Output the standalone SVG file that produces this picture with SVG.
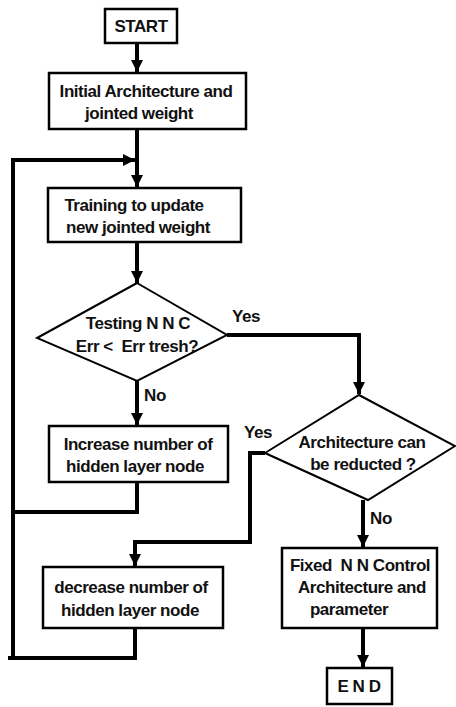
<svg xmlns="http://www.w3.org/2000/svg" width="456" height="707" viewBox="0 0 456 707">
<style>
.box{fill:#fff;stroke:#000;stroke-width:2.5}
.dia{fill:#fff;stroke:#000;stroke-width:2}
.t{font-family:"Liberation Sans",Arial,sans-serif;font-weight:bold;font-size:17px;letter-spacing:-0.45px;fill:#111;text-anchor:middle}
.c{fill:none;stroke:#000;stroke-width:4;stroke-linejoin:miter}
</style>
<defs>
<marker id="ah" viewBox="0 0 10 10" refX="10" refY="5" markerWidth="3" markerHeight="3" orient="auto" markerUnits="strokeWidth">
<path d="M0,0 L10,5 L0,10 z" fill="#000"/>
</marker>
</defs>
<rect width="456" height="707" fill="#fff"/>
<g id="connectors">
<path class="c" d="M137,43 V72" marker-end="url(#ah)"/>
<path class="c" d="M137,129 V187" marker-end="url(#ah)"/>
<path class="c" d="M13,658 V160 H135" marker-end="url(#ah)"/>
<path class="c" d="M137,242 V283" marker-end="url(#ah)"/>
<path class="c" d="M137,380 V425" marker-end="url(#ah)"/>
<path class="c" d="M137,482 V512 H13"/>
<path class="c" d="M227,335 H359 V394" marker-end="url(#ah)"/>
<path class="c" d="M265,453 H250 V542 H135 V566" marker-end="url(#ah)"/>
<path class="c" d="M363,500 V547" marker-end="url(#ah)"/>
<path class="c" d="M135,628 V658 H8"/>
<path class="c" d="M363,628 V667" marker-end="url(#ah)"/>
</g>
<g id="start">
<rect class="box" x="105" y="9" width="72" height="34"/>
<text class="t" x="141" y="32">START</text>
</g>
<g id="initial">
<rect class="box" x="49" y="73" width="197" height="56"/>
<text class="t" x="146" y="97">Initial Architecture and</text>
<text class="t" x="139" y="119">jointed weight</text>
</g>
<g id="training">
<rect class="box" x="48" y="188" width="193" height="54"/>
<text class="t" x="134" y="211">Training to update</text>
<text class="t" x="138" y="233">new jointed weight</text>
</g>
<g id="test">
<polygon class="dia" points="137,283 227,335 137,381 37,338"/>
<text class="t" x="138" y="329">Testing N N C</text>
<text class="t" x="137" y="352" xml:space="preserve">Err &lt;  Err tresh?</text>
</g>
<text class="t" x="246" y="322">Yes</text>
<text class="t" x="155" y="401">No</text>
<g id="increase">
<rect class="box" x="49" y="426" width="179" height="56"/>
<text class="t" x="138" y="450">Increase number of</text>
<text class="t" x="135" y="472">hidden layer node</text>
</g>
<g id="reduce">
<polygon class="dia" points="359,395 455,446 368,500 265,453"/>
<text class="t" x="362" y="448">Architecture can</text>
<text class="t" x="363" y="470">be reducted ?</text>
</g>
<text class="t" x="258" y="438">Yes</text>
<text class="t" x="381" y="524">No</text>
<g id="decrease">
<rect class="box" x="43" y="567" width="180" height="61"/>
<text class="t" x="131" y="593">decrease number of</text>
<text class="t" x="130" y="616">hidden layer node</text>
</g>
<g id="fixed">
<rect class="box" x="282" y="548" width="155" height="80"/>
<text class="t" x="360" y="571" xml:space="preserve">Fixed  N N Control</text>
<text class="t" x="362" y="593">Architecture and</text>
<text class="t" x="349" y="615">parameter</text>
</g>
<g id="end">
<rect class="box" x="327" y="668" width="65" height="36"/>
<text class="t" x="359" y="692">E N D</text>
</g>
</svg>
